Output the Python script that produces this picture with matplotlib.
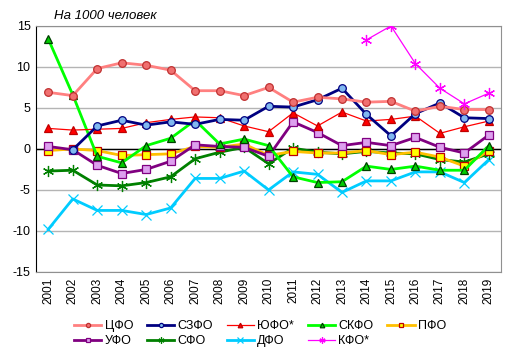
"""
Natural population growth by federal district, per 1000 people.
"""

import matplotlib
matplotlib.use("Agg")
import matplotlib.pyplot as plt
import numpy as np

plt.rcParams["font.family"] = ["Liberation Sans", "DejaVu Sans"]

YEARS = [str(y) for y in range(2001, 2020)]

# values (None = no data)
cfo = [6.9, 6.5, 9.8, 10.5, 10.2, 9.6, 7.1, 7.1, 6.5, 7.5, 5.7, 6.3, 6.1, 5.7, 5.8, 4.6, 5.2, 4.8, 4.8]
szfo = [None, -0.1, 2.8, 3.5, 2.9, 3.3, 3.0, 3.6, 3.5, 5.2, 5.1, 6.0, 7.4, 4.2, 1.6, 4.3, 5.6, 3.8, 3.7]
yufo = [2.5, 2.3, 2.4, 2.5, 3.2, 3.6, 3.9, 3.8, 2.8, 2.1, 4.4, 2.8, 4.5, 3.4, 3.6, 4.0, 1.9, 2.7, 3.4]
skfo = [13.4, 6.6, -0.9, -1.7, 0.4, 1.3, 3.5, 0.6, 1.2, 0.4, -3.4, -4.1, -4.0, -2.1, -2.5, -2.1, -2.6, -2.6, 0.4]
pfo = [-0.2, 0.0, -0.2, -0.8, -0.7, -0.6, 0.3, 0.2, 0.6, -0.8, -0.3, -0.5, -0.5, -0.2, -0.7, -0.4, -1.0, -2.1, -0.2]
ufo = [0.3, -0.1, -2.0, -3.0, -2.5, -1.5, 0.5, 0.3, 0.2, -0.9, 3.3, 2.0, 0.4, 0.8, 0.4, 1.4, 0.2, -0.5, 1.7]
sfo = [-2.7, -2.6, -4.4, -4.5, -4.1, -3.4, -1.2, -0.4, 0.2, -1.8, 0.1, -0.4, -0.6, -0.3, -0.5, -0.6, -1.3, -1.6, -0.6]
dfo = [-9.8, -6.1, -7.5, -7.5, -8.0, -7.2, -3.6, -3.6, -2.7, -5.0, -2.8, -3.1, -5.3, -3.9, -3.9, -2.8, -2.8, -4.1, -1.3]
kfo = [None] * 13 + [13.3, 15.0, 10.4, 7.4, 5.5, 6.8]

SERIES = [
    # label, values, line colour, lw, marker, marker face, marker edge, size
    ("ЦФО", cfo, "#FF8080", 2.0, "o", "#F07070", "#C03030", 5.5),
    ("УФО", ufo, "#800080", 2.0, "s", "#DDA0EE", "#800080", 5.5),
    ("СЗФО", szfo, "#000080", 2.0, "o", "#80B8F0", "#000080", 5.5),
    ("СФО", sfo, "#008000", 2.0, (6, 2, 0), "#008000", "#008000", 8),
    ("ЮФО*", yufo, "#FF0000", 0.9, "^", "#FF0000", "#C00000", 6),
    ("ДФО", dfo, "#00CCFF", 2.0, "x", "#00CCFF", "#00CCFF", 7),
    ("СКФО", skfo, "#00FF00", 2.0, "^", "#00CC00", "#004000", 6),
    ("КФО*", kfo, "#FF00FF", 0.9, (6, 2, 0), "#FF00FF", "#FF00FF", 8),
    ("ПФО", pfo, "#FFC000", 2.0, "s", "#FFFF00", "#C00000", 5.5),
]

# drawing order (top-most last)
Z_ORDER = ["ДФО", "СФО", "ПФО", "УФО", "СКФО", "ЮФО*", "СЗФО", "ЦФО", "КФО*"]


def main():
    fig = plt.figure(figsize=(5.15, 3.55), dpi=100)
    ax = fig.add_axes([0.070, 0.234, 0.903, 0.693])

    x = np.arange(len(YEARS))
    for label, vals, color, lw, marker, mfc, mec, ms in SERIES:
        y = np.array([np.nan if v is None else v for v in vals], dtype=float)
        ax.plot(x, y, color=color, linewidth=lw, marker=marker, markersize=ms,
                markerfacecolor=mfc, markeredgecolor=mec, markeredgewidth=0.9,
                label=label, zorder=3 + Z_ORDER.index(label))

    ax.set_xlim(-0.5, len(YEARS) - 0.5)
    ax.set_ylim(-15, 15)
    ax.set_yticks([-15, -10, -5, 0, 5, 10, 15])
    ax.set_yticklabels(["-15", "-10", "-5", "0", "5", "10", "15"], fontsize=9)
    ax.set_xticks(x)
    ax.set_xticklabels(YEARS, rotation=90, fontsize=8.5)
    ax.tick_params(axis="both", length=0, pad=4)

    ax.grid(axis="y", color="#B4B4B4", linewidth=1)
    ax.set_axisbelow(True)
    ax.axhline(0, color="black", linewidth=1, zorder=2)
    for side in ("top", "right", "bottom"):
        ax.spines[side].set_color("#909090")
    ax.spines["left"].set_color("black")

    fig.text(0.105, 0.955, "На 1000 человек", fontsize=9.5, style="italic",
             ha="left", va="center")

    handles, labels = ax.get_legend_handles_labels()
    fig.legend(handles, labels, loc="center", bbox_to_anchor=(0.505, 0.06),
               ncol=5, frameon=False, fontsize=9, markerscale=0.55,
               handlelength=2.2, handletextpad=0.25, columnspacing=1.1,
               labelspacing=0.25)

    fig.savefig("out.png", dpi=100)
    plt.close(fig)


if __name__ == "__main__":
    main()
